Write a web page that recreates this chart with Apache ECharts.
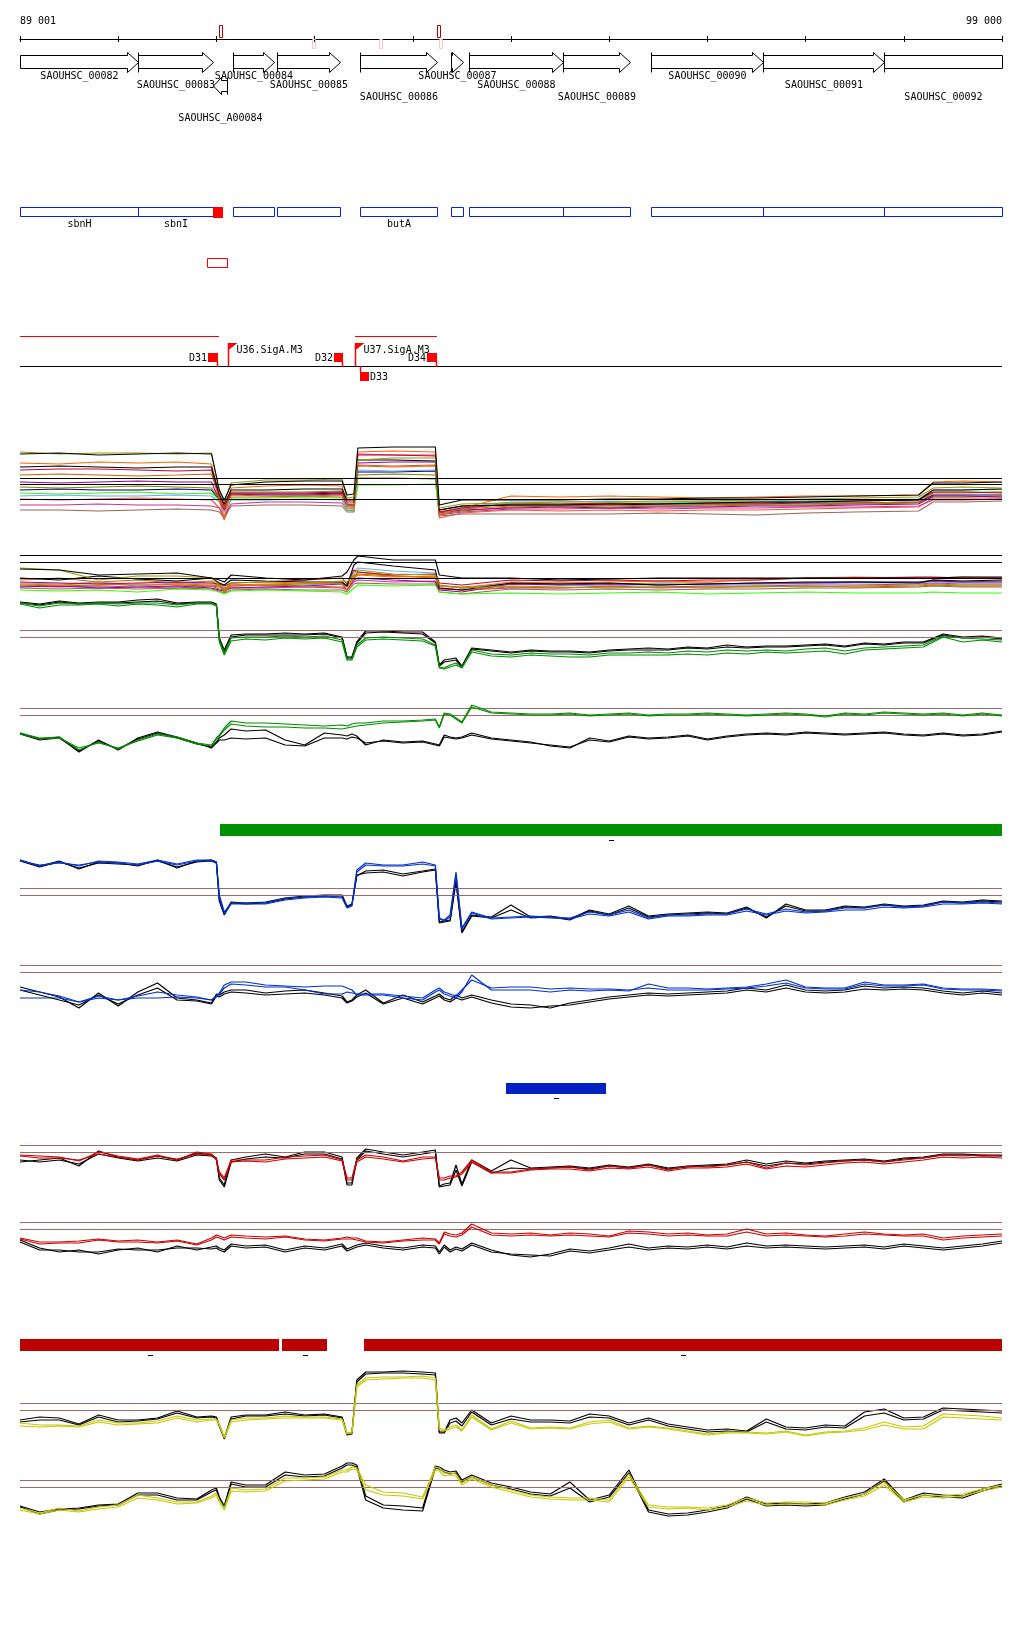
<!DOCTYPE html>
<html>
<head>
<meta charset="utf-8">
<script src="https://cdn.jsdelivr.net/npm/echarts@6/dist/echarts.min.js"></script>
<style>
  html, body { margin: 0; padding: 0; background: #fff; }
  #chart { width: 1024px; height: 1640px; }
</style>
</head>
<body>
<div id="chart"></div>
<script>
// genome window
const xMin = 89000, xMax = 99000;
const rulerLabels = ['89 001', '99 000'];

// annotated genes
const geneName = ['SAOUHSC_00082','SAOUHSC_00083','SAOUHSC_A00084','SAOUHSC_00084','SAOUHSC_00085','SAOUHSC_00086',
  'SAOUHSC_00087','SAOUHSC_00088','SAOUHSC_00089','SAOUHSC_00090','SAOUHSC_00091','SAOUHSC_00092'];
const geneStart = [88850, 90202, 90965, 91169, 91617, 92462, 93389, 93572, 94530, 95426, 96566, 97798];
const geneEnd   = [90202, 90965, 91108, 91587, 92259, 93246, 93511, 94530, 95212, 96566, 97798, 99350];
const geneStrand = [1, 1, -1, 1, 1, 1, 1, 1, 1, 1, 1, 1];

// CDS features (blue track)
const featStart = [88850, 90202, 91169, 91617, 92462, 93389, 93572, 94530, 95426, 96566, 97798];
const featEnd   = [90202, 90965, 91587, 92259, 93246, 93511, 94530, 95212, 96566, 97798, 99350];
const featName  = ['sbnH', 'sbnI', '', '', 'butA', '', '', '', '', '', ''];
const rnaStart = [90965], rnaEnd = [91067];
const boxStart = [90904], boxEnd = [91108];

// sites on the ruler
const siteUp = [91047, 93267];
const siteDown = [91994, 92676, 93287];

// transcription units, promoters, terminators
const opStart = [88850, 92411], opEnd = [91026, 93246];
const promPos = [91118, 92411], promName = ['U36.SigA.M3', 'U37.SigA.M3'];
const termStart = [90915, 92198, 93145, 92462], termEnd = [91017, 92290, 93246, 92554];
const termName = ['D31', 'D32', 'D34', 'D33'], termStrand = [1, 1, 1, -1];

// segment bars
const greenStart = [91037], greenEnd = [99350];
const blueStart = [93949], blueEnd = [94968];
const redStart = [88850, 91668, 92503], redEnd = [91637, 92126, 99350];

// probe positions
const pos = [89000,89200,89400,89600,89800,90000,90200,90400,90600,90800,
  90950,91000,91030,91080,91150,91300,91500,91700,91900,92100,
  92280,92330,92380,92430,92520,92700,92900,93100,93230,93270,
  93320,93380,93440,93500,93600,93800,94000,94200,94400,94600,
  94800,95000,95200,95400,95600,95800,96000,96200,96400,96600,
  96800,97000,97200,97400,97600,97800,98000,98200,98400,98600,
  98800,99000];
const posM = [89000,89400,89800,90200,90600,90950,91030,91080,91150,91500,91900,92280,92330,92400,92440,
  92800,93230,93270,93500,94000,94500,95000,95500,96000,96500,97000,97500,98150,98300,98600,99000];

// all conditions, panel 1
const m1Lines = [
  [76,77,75,76,77,76,40,30,45,48,49,49,35,36,82,83,83,25,30,30,30,31,31,32,32,33,34,35,47,47,48],
  [78,76,77,77,76,77,38,28,47,50,50,51,32,33,70,72,72,22,26,27,28,28,29,29,30,31,32,33,42,43,42],
  [63,64,63,62,63,63,36,26,40,40,41,41,30,30,70,70,69,20,24,25,25,26,26,27,28,28,29,30,40,40,41],
  [60,61,61,60,59,60,34,24,37,37,37,38,28,28,75,75,74,18,22,26,26,27,26,27,27,28,29,30,38,38,37],
  [67,66,68,67,68,66,30,12,42,44,45,44,24,22,78,79,78,16,22,34,33,34,33,32,33,34,34,35,48,49,48],
  [55,56,55,54,55,56,32,22,35,34,34,35,26,26,65,64,65,18,21,24,24,25,24,25,26,26,27,28,37,37,38],
  [48,47,48,49,48,48,30,20,36,35,35,36,24,24,67,68,68,17,20,22,23,22,23,23,24,24,25,26,34,34,33],
  [34,35,34,34,35,34,28,18,30,30,31,30,22,22,60,59,60,18,23,28,28,29,28,29,29,30,30,31,40,40,41],
  [37,36,37,38,36,37,30,20,32,32,33,32,20,20,45,45,46,17,21,27,26,27,27,28,28,29,30,30,38,38,38],
  [43,42,43,44,43,42,31,21,38,38,38,39,25,25,55,56,55,16,19,23,24,23,24,24,25,25,26,27,33,33,34],
  [25,25,26,25,25,24,22,14,26,28,28,27,20,19,76,75,75,15,18,21,21,22,21,22,22,23,23,24,30,30,31],
  [20,20,19,20,21,20,18,12,24,25,25,24,18,18,52,52,51,14,16,16,16,16,17,16,15,17,18,19,28,28,29],
  [31,30,31,32,31,30,22,10,33,33,34,33,22,21,64,63,64,12,17,20,19,20,19,20,20,21,22,23,32,32,32],
  [40,41,40,40,41,40,30,22,36,36,36,37,26,25,58,58,59,20,24,25,25,25,26,26,26,27,27,28,35,35,35]
];
const m1Ref = [52, 46, 31];

// all conditions, panel 2
const m2Lines = [
  [41,40,35,36,37,32,30,28,35,32,30,34,38,50,54,50,50,35,32,32,30,31,32,32,32,32,32,32,32,33,33],
  [42,40,30,34,34,32,25,20,27,28,27,29,28,35,40,36,35,25,22,24,23,22,23,22,24,23,24,25,26,25,25],
  [32,30,34,31,29,32,27,25,30,29,28,28,24,45,48,44,40,22,20,27,26,27,25,26,27,28,28,27,30,29,30],
  [28,27,26,27,28,27,26,24,27,28,30,32,26,40,38,35,36,27,25,30,29,30,29,30,30,32,32,33,33,32,32],
  [26,25,27,24,26,25,24,22,25,26,27,26,24,32,35,33,34,24,22,28,27,28,29,28,30,32,33,32,32,33,32],
  [30,32,28,30,27,29,24,18,24,25,24,23,20,32,38,34,32,22,20,23,22,24,22,23,23,24,23,24,25,24,24],
  [23,24,22,23,24,22,20,19,22,23,24,26,20,30,32,30,28,20,18,26,25,26,25,26,27,27,28,28,29,28,28],
  [27,26,28,25,27,26,25,22,26,24,25,27,25,38,42,39,37,25,22,26,25,24,26,25,26,26,27,27,28,27,27],
  [20,19,20,18,21,20,18,16,19,20,19,18,16,22,25,24,25,18,16,17,16,17,18,16,17,18,17,17,18,17,17],
  [25,24,25,26,25,24,23,21,24,25,26,27,23,34,36,34,33,24,23,26,27,26,27,27,26,27,28,28,30,28,29],
  [24,23,24,23,22,24,21,20,22,22,23,22,20,28,30,28,29,21,20,22,22,23,23,24,24,25,25,26,27,26,26],
  [22,21,22,21,22,21,19,17,20,21,20,20,18,26,27,26,26,18,16,21,20,21,20,21,21,22,22,23,24,23,23]
];
const m2Ref = [55, 48, 32];

// green condition
const g1Green1 = [87,84,87,86,87,86,87,87,85,87,87,85,50,37,52,53,53,54,53,54,50,31,31,45,52,53,52,51,45,23,22,25,27,23,40,36,35,37,36,36,35,37,37,38,37,39,38,40,39,40,39,41,42,39,42,43,44,45,54,52,51,50];
const g1Green2 = [86,82,85,85,86,84,86,85,83,86,86,84,48,35,49,51,50,52,51,52,48,30,30,43,50,51,50,49,44,22,21,23,25,22,38,34,33,35,34,33,33,35,35,35,35,36,35,37,36,38,37,38,39,36,40,41,42,43,53,48,50,48];
const g1Black1 = [88,86,89,87,88,88,90,91,87,88,88,86,52,40,55,56,56,57,56,57,53,33,33,48,59,59,58,58,48,25,30,31,32,24,42,40,38,40,39,39,38,40,41,42,41,43,42,45,43,44,44,45,46,44,47,46,48,48,56,53,54,52];
const g1Black2 = [87,85,88,86,87,87,88,89,86,87,87,85,51,38,53,55,55,55,55,56,52,32,32,47,57,58,57,56,47,24,28,29,30,23,41,39,37,39,38,38,37,39,40,40,40,42,41,43,42,43,43,44,45,43,46,45,47,47,55,52,53,51];
const g1Ref = [60, 53];
const g2Green1 = [57,52,53,40,48,41,50,56,53,47,45,52,55,62,69,67,67,66,65,64,65,64,66,67,67,69,69,70,71,63,77,76,72,68,85,78,77,76,76,77,75,76,77,75,76,76,77,76,75,76,77,76,74,77,76,78,77,76,77,75,77,75];
const g2Green2 = [56,51,52,42,47,42,49,55,52,46,44,51,54,60,66,64,63,63,62,62,61,62,63,64,65,67,68,69,70,62,76,75,71,67,83,77,76,75,75,76,74,75,76,74,75,75,76,75,74,75,76,75,73,76,75,77,76,75,76,74,76,74];
const g2Black1 = [57,51,53,38,50,40,52,58,53,47,42,48,52,55,61,59,60,50,45,57,55,54,56,54,45,50,48,49,46,45,55,53,52,53,57,52,50,48,44,42,52,49,54,52,53,55,51,54,56,57,56,58,57,56,57,58,56,55,57,55,56,59];
const g2Black2 = [56,50,52,39,49,41,51,57,52,46,43,47,50,50,52,51,52,45,44,52,52,51,53,52,47,49,47,48,45,44,53,52,51,52,55,51,49,47,45,43,50,48,53,51,52,54,50,53,55,56,55,57,56,55,56,57,55,54,56,54,55,58];
const g2Ref = [82, 75];

// blue condition
const b1Blue1 = [90,84,88,84,89,88,86,90,86,90,90,88,55,38,47,47,47,52,53,54,53,43,45,80,87,85,85,88,85,32,30,35,78,22,38,32,33,34,33,32,38,35,40,32,35,35,36,36,41,36,41,38,39,42,42,45,43,44,48,47,48,47];
const b1Blue2 = [89,85,87,85,88,87,85,89,85,89,89,87,52,36,46,46,46,50,52,53,52,42,44,78,85,84,84,86,84,31,29,33,76,21,37,31,32,33,32,31,36,34,38,31,34,34,35,35,39,35,39,37,38,40,40,43,42,43,46,46,47,46];
const b1Black1 = [90,84,89,81,88,87,84,90,82,89,90,88,50,36,48,47,48,52,54,55,55,44,46,75,77,78,74,78,80,28,29,30,70,18,35,33,45,33,34,31,40,36,44,34,36,37,38,37,43,32,46,40,40,44,43,46,44,45,49,48,50,49];
const b1Black2 = [89,83,88,82,87,86,85,89,83,88,89,87,49,35,47,46,47,51,53,54,54,43,45,74,79,80,76,79,81,27,28,29,68,17,34,32,40,32,33,30,39,35,42,33,35,36,37,36,42,33,44,39,39,43,42,45,43,44,48,47,49,48];
const b1Ref = [62, 55];
const b2Blue1 = [60,58,54,48,54,50,54,58,55,53,50,54,57,65,68,68,65,64,63,64,64,62,60,55,55,55,52,50,58,60,56,54,52,58,75,60,60,60,58,60,59,60,59,66,62,62,61,62,63,66,70,63,62,62,68,65,65,66,62,61,61,60];
const b2Blue2 = [52,52,52,48,52,50,52,52,53,52,50,53,56,62,66,65,63,63,60,56,56,58,57,56,56,56,54,52,60,62,58,56,54,60,70,62,63,63,61,62,61,61,60,62,60,60,60,61,62,64,67,62,61,61,66,64,64,65,61,60,60,59];
const b2Black1 = [63,58,53,42,57,44,58,67,52,50,47,56,55,58,60,60,57,59,60,57,54,48,50,55,60,47,55,48,54,56,52,50,55,52,55,50,46,45,42,47,50,53,55,57,56,57,58,59,62,60,65,60,59,60,64,62,63,62,59,57,59,57];
const b2Black2 = [60,55,50,45,55,46,55,62,50,49,46,54,53,56,58,57,55,56,57,55,52,47,49,53,57,46,52,46,52,54,50,48,52,50,53,47,43,42,44,45,48,51,53,55,54,55,56,57,60,58,62,58,57,58,61,60,61,60,57,55,57,55];
const b2Ref = [85, 78];

// red condition
const r1Red1 = [75,74,73,69,78,74,71,75,70,78,76,70,58,52,70,70,70,73,74,75,70,52,52,70,75,73,69,73,73,52,52,54,54,58,70,58,58,61,62,63,60,64,62,65,60,64,63,65,68,62,67,65,67,69,70,68,70,72,75,74,75,74];
const r1Red2 = [74,72,72,70,76,73,70,74,71,76,75,71,56,50,68,69,68,71,72,73,69,50,50,68,73,71,68,71,72,50,50,52,53,56,68,57,57,60,61,61,59,62,61,63,59,62,62,63,66,61,64,63,65,67,68,66,68,70,73,72,73,72];
const r1Black1 = [68,70,72,64,79,73,70,74,70,77,75,72,52,45,70,73,76,73,78,78,73,47,47,72,81,78,75,78,80,44,46,47,65,46,70,59,70,62,63,64,62,65,63,66,62,64,65,66,70,66,69,67,69,70,71,69,72,73,76,76,75,75];
const r1Black2 = [70,68,70,66,76,72,69,72,69,75,74,71,50,43,68,71,73,72,76,76,71,45,45,70,79,76,73,76,78,43,44,45,60,44,68,57,62,61,62,63,61,64,62,65,61,63,64,65,68,64,67,66,68,69,70,68,71,72,75,75,74,74];
const r1Ref = [85, 78];
const r2Red1 = [72,68,68,69,71,69,70,68,70,66,72,75,74,72,75,74,73,74,71,70,72,73,72,72,69,68,70,72,71,67,78,76,75,77,86,77,76,77,75,77,76,74,79,78,76,77,75,76,81,76,77,75,74,76,78,76,75,76,72,74,75,76];
const r2Red2 = [71,66,67,67,70,68,68,67,69,65,70,73,72,70,73,72,71,73,70,69,71,71,71,70,68,67,69,70,70,66,76,74,73,75,83,75,74,75,74,75,74,73,77,76,74,75,74,74,78,74,75,74,73,74,76,75,74,74,70,72,73,74];
const r2Black1 = [70,62,58,60,56,60,62,58,64,60,63,64,62,60,66,64,65,60,64,62,66,61,63,65,67,64,62,65,64,58,65,60,63,61,67,60,55,53,56,61,59,62,66,62,64,63,65,63,67,64,65,64,63,64,65,63,66,64,62,64,66,69];
const r2Black2 = [68,60,60,58,58,61,60,60,62,62,61,62,60,58,64,62,63,58,62,60,64,59,61,63,65,62,60,63,62,56,63,58,61,59,65,58,56,55,54,59,57,60,63,60,62,61,63,61,64,62,63,62,61,62,63,61,64,62,60,62,64,67];
const r2Ref = [88, 81];

// yellow condition
const y1Yellow1 = [37,35,35,34,40,37,37,39,44,40,41,41,36,23,40,42,42,44,43,43,41,27,28,75,82,83,83,84,82,32,30,33,35,30,45,31,39,32,33,32,38,40,32,34,32,29,26,28,28,27,29,25,28,29,32,38,33,34,46,45,44,42];
const y1Yellow2 = [34,33,34,33,38,35,36,37,42,38,40,40,35,22,38,40,41,42,42,42,40,26,27,73,80,81,82,82,80,30,29,31,33,29,43,30,37,31,32,31,36,38,31,33,31,28,25,27,27,26,28,24,27,28,30,35,31,31,43,42,41,40];
const y1Black1 = [40,43,42,36,45,40,40,42,49,43,44,43,35,22,43,45,45,48,45,46,43,26,27,80,88,88,89,88,87,28,28,40,42,37,50,37,44,40,40,39,46,44,37,42,36,33,30,31,29,41,33,32,35,34,48,51,42,43,52,51,50,49];
const y1Black2 = [38,40,40,35,43,38,39,41,47,42,43,42,34,21,41,44,44,46,44,45,42,25,26,78,86,87,87,86,85,27,27,37,39,34,48,35,41,38,38,37,43,42,35,40,34,31,28,29,28,38,31,30,33,32,44,47,40,41,50,49,48,47];
const y1Ref = [57, 50];
const y2Yellow1 = [42,37,42,39,43,45,55,52,48,48,54,57,50,42,62,60,61,72,72,73,80,80,83,82,65,58,57,53,83,82,77,77,76,67,73,65,60,55,53,52,52,50,76,45,43,43,42,45,52,47,48,48,47,52,56,68,50,55,54,56,61,65];
const y2Yellow2 = [40,36,40,38,41,43,52,50,46,47,52,55,48,40,59,58,59,69,70,71,78,78,81,80,60,55,54,51,80,79,74,75,74,65,71,63,58,53,51,50,50,48,73,43,41,42,40,43,49,45,46,46,45,50,54,65,48,53,52,54,59,63];
const y2Black1 = [44,38,41,42,45,46,57,57,52,51,60,62,53,44,68,65,65,78,75,76,84,87,87,85,54,45,44,42,84,83,80,78,79,70,75,67,63,58,56,68,50,55,80,40,36,37,40,44,53,46,47,46,47,53,58,71,50,57,55,54,61,66];
const y2Black2 = [43,36,40,41,44,45,55,55,50,50,58,60,51,43,66,63,63,75,73,74,82,85,85,83,50,42,40,39,82,81,78,76,77,68,73,65,61,56,54,62,48,53,77,38,34,35,38,42,51,44,45,44,45,51,56,69,48,55,53,52,59,64];
const y2Ref = [70, 63];

const FONT = '"DejaVu Sans Mono", monospace';
const multiColors = ['#000000','#999900','#000000','#cc0033','#ff6600','#cc6600','#990099','#66aaff','#33ff00','#808000','#cc3399','#996655','#ff5533','#000066'];
const brown = '#a06868';

let chart = echarts.init(document.getElementById('chart'), null, {renderer: 'canvas'});

const grids = [], xAxes = [], yAxes = [], series = [];
function addGrid(top, height, ymax, inverse) {
  grids.push({left: 20, right: 22, top: top, height: height, outerBoundsMode: 'none'});
  const gi = grids.length - 1;
  xAxes.push({type: 'value', gridIndex: gi, min: xMin, max: xMax, show: false});
  yAxes.push({type: 'value', gridIndex: gi, min: 0, max: ymax, inverse: !!inverse, show: false});
  return gi;
}

// grid 0: annotation tracks, y in screen rows
const tg = addGrid(0, 1640, 1640, true);
const sx = (api, v) => api.coord([Math.min(Math.max(v, xMin), xMax), 0])[0];
const crisp = v => Math.round(v) + 0.5;
const txt = (x, y, s, align, va, color) => ({
  type: 'text', x: x, y: y,
  style: {text: s, fontSize: 10, fontFamily: FONT, fill: color || '#000', align: align || 'center', verticalAlign: va || 'middle'}
});

function lineSeries(gi, xs, vals, color, w, z) {
  return {
    type: 'line', xAxisIndex: gi, yAxisIndex: gi, silent: true, animation: false,
    showSymbol: false, symbol: 'none', z: z || 2,
    data: xs.map((p, i) => [p, vals[i]]),
    lineStyle: {color: color, width: w || 1}, itemStyle: {color: color}
  };
}
function refLines(values, color) {
  return {
    silent: true, symbol: ['none', 'none'], label: {show: false}, animation: false,
    lineStyle: {color: color, width: 1, type: 'solid'},
    data: values.map(v => ({yAxis: v}))
  };
}

// expression panels
const multiPanels = [
  {top: 430, lines: m1Lines, ref: m1Ref},
  {top: 510, lines: m2Lines, ref: m2Ref}
];
multiPanels.forEach(p => {
  const gi = addGrid(p.top, 100, 100);
  for (let k = p.lines.length - 1; k >= 0; k--) {
    const s = lineSeries(gi, posM, p.lines[k], multiColors[k], 1.1, 3);
    if (k === p.lines.length - 1) s.markLine = refLines(p.ref, '#000');
    series.push(s);
  }
});

const pairPanels = [
  {top: 590, color: '#008c00', lines: [g1Black1, g1Black2, g1Green1, g1Green2], ref: g1Ref},
  {top: 690, color: '#008c00', lines: [g2Black1, g2Black2, g2Green1, g2Green2], ref: g2Ref},
  {top: 850, color: '#0030d0', lines: [b1Black1, b1Black2, b1Blue1, b1Blue2], ref: b1Ref},
  {top: 950, color: '#0030d0', lines: [b2Black1, b2Black2, b2Blue1, b2Blue2], ref: b2Ref},
  {top: 1130, color: '#cc0000', lines: [r1Black1, r1Black2, r1Red1, r1Red2], ref: r1Ref},
  {top: 1210, color: '#cc0000', lines: [r2Black1, r2Black2, r2Red1, r2Red2], ref: r2Ref},
  {top: 1360, color: '#c8c800', lines: [y1Black1, y1Black2, y1Yellow1, y1Yellow2], ref: y1Ref},
  {top: 1450, color: '#c8c800', lines: [y2Black1, y2Black2, y2Yellow1, y2Yellow2], ref: y2Ref}
];
pairPanels.forEach(p => {
  const gi = addGrid(p.top, 100, 100);
  p.lines.forEach((vals, k) => {
    const s = lineSeries(gi, pos, vals, k < 2 ? '#000' : p.color, 1.2, 3 + k);
    if (k === 0) s.markLine = refLines(p.ref, brown);
    series.push(s);
  });
});

// ruler grid, axis line at y=38
grids.push({left: 20, right: 22, top: 38, height: 1, outerBoundsMode: 'none'});
const rg = grids.length - 1;
xAxes.push({
  type: 'value', gridIndex: rg, position: 'top', min: xMin, max: xMax, interval: 1000,
  axisLine: {show: true, lineStyle: {color: '#000', width: 1}},
  axisTick: {show: true, length: 3, lineStyle: {color: '#000'}},
  splitLine: {show: false},
  axisLabel: {
    show: true, margin: 12, fontSize: 10, fontFamily: FONT, color: '#000',
    showMinLabel: true, showMaxLabel: true, alignMinLabel: 'left', alignMaxLabel: 'right',
    formatter: v => v === xMin ? rulerLabels[0] : (v === xMax ? rulerLabels[1] : '')
  }
});
xAxes.push({
  type: 'value', gridIndex: rg, position: 'bottom', min: xMin, max: xMax, interval: 1000,
  axisLine: {show: false}, axisLabel: {show: false}, splitLine: {show: false},
  axisTick: {show: true, length: 3, lineStyle: {color: '#000'}}
});
yAxes.push({type: 'value', gridIndex: rg, min: 0, max: 1, show: false});

// ---- custom tracks on grid 0 ----
function custom(data, renderItem, z) {
  series.push({type: 'custom', xAxisIndex: tg, yAxisIndex: tg, silent: true, animation: false, z: z || 5,
    data: data, renderItem: renderItem});
}

// sites on ruler
custom(siteUp.map(v => [v]), (params, api) => {
  const x = Math.round(sx(api, api.value(0)));
  return {type: 'rect', shape: {x: x - 1.5, y: 25.5, width: 3, height: 12}, style: {fill: 'none', stroke: '#b00000', lineWidth: 1}};
});
custom(siteDown.map(v => [v]), (params, api) => {
  const x = Math.round(sx(api, api.value(0)));
  return {type: 'rect', shape: {x: x - 1.5, y: 39.5, width: 3, height: 9}, style: {fill: 'none', stroke: '#ffc8c0', lineWidth: 1}};
});

// genes
custom(geneStart.map((s, i) => [s, geneEnd[i], geneStrand[i]]), (params, api) => {
  const i = params.dataIndex;
  const s = api.value(0), e = api.value(1), strand = api.value(2);
  const x0 = crisp(sx(api, s)), x1 = crisp(sx(api, e));
  const H = 11, kids = [];
  const st = {fill: '#fff', stroke: '#000', lineWidth: 1};
  if (strand > 0) {
    const t = 52.5, b = 72.5, bt = 55.5, bb = 68.5, m = 62.5;
    let pts;
    if (e > xMax) pts = [[x0, bt], [x1, bt], [x1, bb], [x0, bb]];
    else if (x1 - x0 <= H) pts = [[x0, t], [x1, m], [x0, b]];
    else { const hx = x1 - H; pts = [[x0, bt], [hx, bt], [hx, t], [x1, m], [hx, b], [hx, bb], [x0, bb]]; }
    kids.push({type: 'polygon', shape: {points: pts}, style: st});
    if (s >= xMin) kids.push({type: 'line', shape: {x1: x0, y1: t, x2: x0, y2: b}, style: {stroke: '#000', lineWidth: 1}});
    kids.push(txt((x0 + x1) / 2, [76, 85, 97][i % 3], geneName[i]));
  } else {
    const t = 77.5, b = 94.5, bt = 80.5, bb = 91.5, m = 86;
    const h = Math.min(8, x1 - x0), hx = x0 + h;
    kids.push({type: 'polygon', shape: {points: [[x0, m], [hx, t], [hx, bt], [x1, bt], [x1, bb], [hx, bb], [hx, b]]}, style: st});
    kids.push({type: 'line', shape: {x1: x1, y1: t, x2: x1, y2: b}, style: {stroke: '#000', lineWidth: 1}});
    kids.push(txt((x0 + x1) / 2, 118, geneName[i]));
  }
  return {type: 'group', children: kids};
}, 6);

// CDS features
custom(featStart.map((s, i) => [s, featEnd[i]]), (params, api) => {
  const x0 = crisp(sx(api, api.value(0))), x1 = crisp(sx(api, api.value(1)));
  return {type: 'group', children: [
    {type: 'rect', shape: {x: x0, y: 207.5, width: x1 - x0, height: 9}, style: {fill: 'none', stroke: '#0020ee', lineWidth: 1}},
    txt((x0 + x1) / 2, 224, featName[params.dataIndex])
  ]};
});
custom(rnaStart.map((s, i) => [s, rnaEnd[i]]), (params, api) => {
  const x0 = Math.round(sx(api, api.value(0))), x1 = Math.round(sx(api, api.value(1)));
  return {type: 'rect', shape: {x: x0, y: 207, width: x1 - x0, height: 11}, style: {fill: '#ff0000'}};
}, 7);
custom(boxStart.map((s, i) => [s, boxEnd[i]]), (params, api) => {
  const x0 = crisp(sx(api, api.value(0))), x1 = crisp(sx(api, api.value(1)));
  return {type: 'rect', shape: {x: x0, y: 258.5, width: x1 - x0, height: 9}, style: {fill: 'none', stroke: '#ff0000', lineWidth: 1}};
});

// transcription units and baseline
custom(opStart.map((s, i) => [s, opEnd[i]]), (params, api) => {
  const x0 = sx(api, api.value(0)), x1 = sx(api, api.value(1));
  return {type: 'line', shape: {x1: x0, y1: 336.5, x2: x1, y2: 336.5}, style: {stroke: '#ff0000', lineWidth: 1}};
});
custom([[xMin, xMax]], (params, api) => {
  const x0 = sx(api, api.value(0)), x1 = sx(api, api.value(1));
  return {type: 'line', shape: {x1: x0, y1: 366.5, x2: x1, y2: 366.5}, style: {stroke: '#000', lineWidth: 1}};
});

// promoters
custom(promPos.map(v => [v]), (params, api) => {
  const x = crisp(sx(api, api.value(0)));
  return {type: 'group', children: [
    {type: 'line', shape: {x1: x, y1: 343, x2: x, y2: 366}, style: {stroke: '#ff0000', lineWidth: 1.5}},
    {type: 'polygon', shape: {points: [[x, 343], [x + 9, 343], [x, 350]]}, style: {fill: '#ff0000'}},
    txt(x + 8, 350, promName[params.dataIndex], 'left')
  ]};
}, 7);

// terminators
custom(termStart.map((s, i) => [s, termEnd[i], termStrand[i]]), (params, api) => {
  const x0 = Math.round(sx(api, api.value(0))), x1 = Math.round(sx(api, api.value(1)));
  const name = termName[params.dataIndex];
  if (api.value(2) > 0) {
    return {type: 'group', children: [
      {type: 'rect', shape: {x: x0, y: 353, width: x1 - x0, height: 9}, style: {fill: '#ff0000'}},
      {type: 'line', shape: {x1: x1 - 0.5, y1: 362, x2: x1 - 0.5, y2: 367}, style: {stroke: '#ff0000', lineWidth: 1.5}},
      txt(x0 - 1, 358, name, 'right')
    ]};
  }
  return {type: 'group', children: [
    {type: 'rect', shape: {x: x0, y: 372, width: x1 - x0, height: 9}, style: {fill: '#ff0000'}},
    {type: 'line', shape: {x1: x0 + 0.5, y1: 366, x2: x0 + 0.5, y2: 372}, style: {stroke: '#ff0000', lineWidth: 1.5}},
    txt(x1 + 1, 377, name, 'left')
  ]};
}, 7);

// segment bars
function barTrack(starts, ends, top, h, color) {
  custom(starts.map((s, i) => [s, ends[i]]), (params, api) => {
    const x0 = Math.round(sx(api, api.value(0))), x1 = Math.round(sx(api, api.value(1)));
    const cx = Math.round((x0 + x1) / 2);
    return {type: 'group', children: [
      {type: 'rect', shape: {x: x0, y: top, width: x1 - x0, height: h}, style: {fill: color}},
      {type: 'rect', shape: {x: cx - 2, y: top + h + 4, width: 5, height: 1}, style: {fill: '#000'}}
    ]};
  });
}
barTrack(greenStart, greenEnd, 824, 12, '#009000');
barTrack(blueStart, blueEnd, 1083, 11, '#0020c4');
barTrack(redStart, redEnd, 1339, 12, '#bb0000');

chart.setOption({
  backgroundColor: '#fff',
  animation: false,
  textStyle: {fontFamily: FONT},
  grid: grids,
  xAxis: xAxes,
  yAxis: yAxes,
  series: series
});
window.addEventListener('resize', function() {
  setTimeout(() => { chart.resize() }, 100)
});
</script>
</body>
</html>
